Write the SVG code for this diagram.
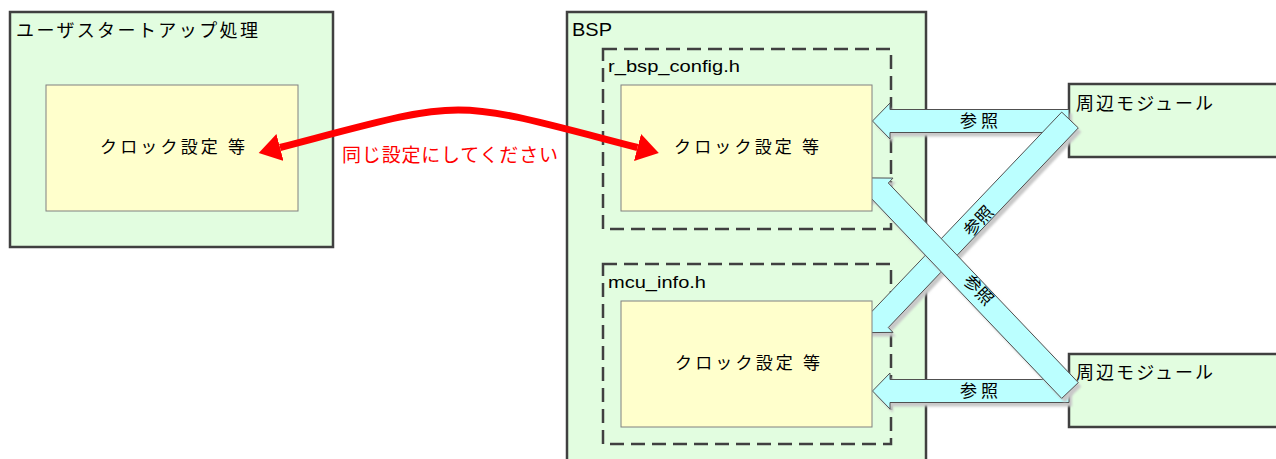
<svg xmlns="http://www.w3.org/2000/svg" width="1276" height="459" viewBox="0 0 1276 459">
<style>
.outer{fill:#E2FDE0;stroke:#404040;stroke-width:2.5}
.dash{fill:none;stroke:#404040;stroke-width:2.5;stroke-dasharray:14 7}
.yel{fill:#FFFFCC;stroke:#808080;stroke-width:1}
.jp{font-family:"Noto Sans CJK JP","Noto Sans",sans-serif;fill:#000}
.en{font-family:"Liberation Sans",Arial,sans-serif;fill:#000}
.arr{fill:#BBFFFF;stroke:#505050;stroke-width:1}
.shd{fill:#C8C8C8;stroke:none}
.red{fill:none;stroke:#FF0000;stroke-width:7}
</style>
<defs>
<filter id="blur" x="-10%" y="-10%" width="120%" height="120%"><feGaussianBlur stdDeviation="1.2"/></filter>
<marker id="rh" markerUnits="userSpaceOnUse" markerWidth="30" markerHeight="32" refX="0" refY="14" orient="auto-start-reverse">
<path d="M0,0 L22,14 L0,28 Z" fill="#FF0000"/>
</marker>
</defs>

<g id="startup">
<rect class="outer" x="10" y="12" width="323" height="235"/>
<text class="jp" x="16" y="37" font-size="18" textLength="242">ユーザスタートアップ処理</text>
</g>

<g id="bsp">
<rect class="outer" x="567" y="12" width="359" height="460"/>
<text class="en" x="572" y="36" font-size="19" textLength="40" lengthAdjust="spacingAndGlyphs">BSP</text>
</g>
<g id="r_bsp_config">
<rect class="dash" x="603" y="49" width="288" height="180"/>
<text class="en" x="608" y="72" font-size="17" textLength="132" lengthAdjust="spacingAndGlyphs">r_bsp_config.h</text>
</g>
<g id="mcu_info">
<rect class="dash" x="603" y="264" width="288" height="180"/>
<text class="en" x="608" y="288" font-size="17" textLength="98" lengthAdjust="spacingAndGlyphs">mcu_info.h</text>
</g>

<g id="module1">
<rect class="outer" x="1069" y="84" width="230" height="73"/>
<text class="jp" x="1076" y="110" font-size="18" textLength="137">周辺モジュール</text>
</g>
<g id="module2">
<rect class="outer" x="1069" y="354" width="230" height="73"/>
<text class="jp" x="1076" y="379" font-size="18" textLength="137">周辺モジュール</text>
</g>

<g id="connectors">
<g filter="url(#blur)" transform="translate(3,4)">
<polygon class="shd" points="872.5,121 890,103 890,109.5 1069,109.5 1069,132.5 890,132.5 890,139"/>
<polygon class="shd" points="872.5,391 890,373 890,379.5 1069,379.5 1069,402.5 890,402.5 890,409"/>
</g>
<polygon class="arr" points="872.5,121 890,103 890,109.5 1069,109.5 1069,132.5 890,132.5 890,139"/>
<polygon class="arr" points="872.5,391 890,373 890,379.5 1069,379.5 1069,402.5 890,402.5 890,409"/>
<polygon class="shd" filter="url(#blur)" transform="translate(3,4)" points="1061.7,112.1 1078.3,127.9 888.3,327.5 893,332.4 867.6,332.6 867,307.2 871.7,311.7"/>
<polygon class="arr" points="1061.7,112.1 1078.3,127.9 888.3,327.5 893,332.4 867.6,332.6 867,307.2 871.7,311.7"/>
<polygon class="shd" filter="url(#blur)" transform="translate(3,4)" points="1061.7,398.4 1078.3,382.6 888.3,183 893,178.1 867.6,177.9 867,203.3 871.7,198.8"/>
<polygon class="arr" points="1061.7,398.4 1078.3,382.6 888.3,183 893,178.1 867.6,177.9 867,203.3 871.7,198.8"/>
<text class="jp" x="960" y="127" font-size="17" textLength="38">参照</text>
<text class="jp" x="960" y="397" font-size="17" textLength="38">参照</text>
<text class="jp" x="0" y="6" font-size="17" text-anchor="middle" transform="translate(978.5,221) rotate(-46.4)">参照</text>
<text class="jp" x="0" y="6" font-size="17" text-anchor="middle" transform="translate(978.5,290) rotate(46.4)">参照</text>
</g>

<g id="clock_user">
<rect class="yel" x="46" y="85" width="252" height="126"/>
<text class="jp" x="100" y="153" font-size="17" textLength="145">クロック設定 等</text>
</g>
<g id="clock_config">
<rect class="yel" x="621" y="85" width="251" height="126"/>
<text class="jp" x="674" y="153" font-size="17" textLength="145">クロック設定 等</text>
</g>
<g id="clock_mcu">
<rect class="yel" x="621" y="301" width="251" height="126"/>
<text class="jp" x="675" y="369" font-size="17" textLength="145">クロック設定 等</text>
</g>

<g id="same_setting">
<path class="red" d="M280,147.5 C471,97.5 445,97.5 637.5,147.5" marker-start="url(#rh)" marker-end="url(#rh)"/>
<text class="jp" x="342" y="162" font-size="19" textLength="216" style="fill:#FF0000">同じ設定にしてください</text>
</g>
</svg>
